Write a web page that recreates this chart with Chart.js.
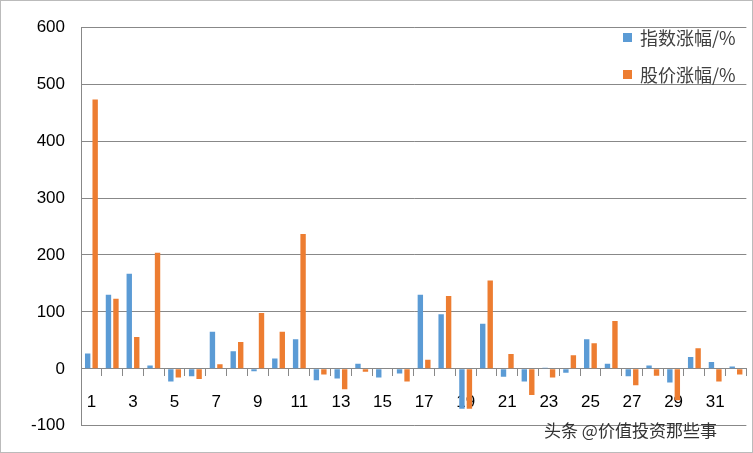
<!DOCTYPE html><html><head><meta charset="utf-8">
<script src="https://cdn.jsdelivr.net/npm/chart.js@4"></script>
<style>body{margin:0;background:#fff;font-family:"Noto Sans CJK SC",sans-serif}
#w{position:relative;width:751px;height:451px;border:1px solid #bbb}
.lg{position:absolute;left:622px;font-size:18px;color:#404040;display:flex;align-items:center}
.lg span{display:inline-block;width:9px;height:9px;margin-right:8px}
#wm{position:absolute;left:543px;top:416px;font-size:17px;color:#333}</style></head><body>
<div id="w"><canvas id="c" width="751" height="451"></canvas>
<div class="lg" style="top:23px"><span style="background:#5B9BD5"></span>指数涨幅/%</div>
<div class="lg" style="top:60px"><span style="background:#ED7D31"></span>股价涨幅/%</div>
<div id="wm">头条 @价值投资那些事</div></div>
<script>
const categories=Array.from({length:32},(_,i)=>String(i+1));
const indexChange=[27,130,167,6,-22,-13,65,31,-4,18,52,-20,-17,9,-15,-8,130,96,-70,79,-14,-22,2,-7,52,9,-13,6,-24,21,12,4];
const priceChange=[473,123,56,204,-15,-18,8,47,98,65,237,-10,-36,-5,0,-22,16,128,-70,155,26,-46,-15,24,45,84,-29,-12,-55,36,-22,-10];
new Chart(document.getElementById('c'),{type:'bar',
data:{labels:categories,datasets:[
{label:'指数涨幅/%',data:indexChange,backgroundColor:'#5B9BD5'},
{label:'股价涨幅/%',data:priceChange,backgroundColor:'#ED7D31'}]},
options:{responsive:false,animation:false,layout:{padding:{left:14,right:2,top:12,bottom:2}},
datasets:{bar:{barPercentage:0.72,categoryPercentage:0.72}},
plugins:{legend:{display:false},tooltip:{enabled:false}},
scales:{
x:{position:{y:0},grid:{offset:true,drawOnChartArea:false,tickLength:7,color:'#888'},border:{color:'#888'},
ticks:{autoSkip:false,maxRotation:0,padding:16,color:'#000',font:{size:17,family:'Liberation Sans'},callback:(v,i)=>i%2===0?categories[i]:''}},
y:{min:-100,max:600,ticks:{stepSize:100,color:'#000',padding:16,font:{size:17,family:'Liberation Sans'}},
grid:{color:'#888',drawTicks:false},border:{color:'#888'}}}}});
</script></body></html>
